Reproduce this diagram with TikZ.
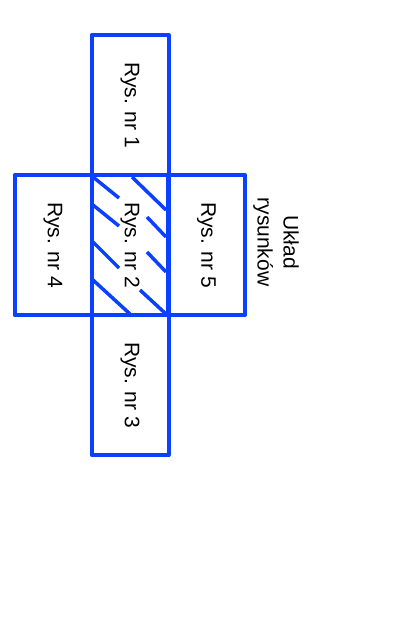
\documentclass[tikz,border=0pt]{standalone}
\usepackage{fontspec}
\setmainfont{Liberation Sans}
\usepackage{graphicx}
\definecolor{rysblue}{RGB}{10,64,255}
\tikzstyle{sheet}=[rectangle,draw=rysblue,line width=4pt,line join=round,minimum width=77pt,minimum height=140pt,inner sep=0pt,font=\fontsize{21}{25}\selectfont]
\tikzstyle{hatch}=[draw=rysblue,line width=3.5pt]
\tikzstyle{caption}=[rotate=-90,align=center,font=\fontsize{21}{26}\selectfont]

\begin{document}
\begin{tikzpicture}[x=1pt,y=-1pt]
    \useasboundingbox (0,0) rectangle (404,644);

    % sheets of the drawing set
    \foreach \pos/ \name/ \nr in {{(130,105)/rys1/1}, {(130,385)/rys3/3}, {(53,245)/rys4/4}, {(206.5,245)/rys5/5}, {(130,245)/rys2/2}}
        \node[sheet] (\name) at \pos {\rotatebox{-90}{Rys. nr \nr}};

    % hatching of sheet 2
    \foreach \a/ \b in {{(93,177)/(119,198)}, {(132,177)/(166,210)}, {(93,205)/(119,226)}, {(147,217)/(166,237)},
                        {(93,242)/(119,268)}, {(147,252)/(166,272)}, {(93,280)/(130,314)}, {(140,290)/(166,314)}}
        \path[hatch] \a -- \b;

    \node[caption] (uklad) at (276,242) {Układ\\rysunków};

\end{tikzpicture}
\end{document}
